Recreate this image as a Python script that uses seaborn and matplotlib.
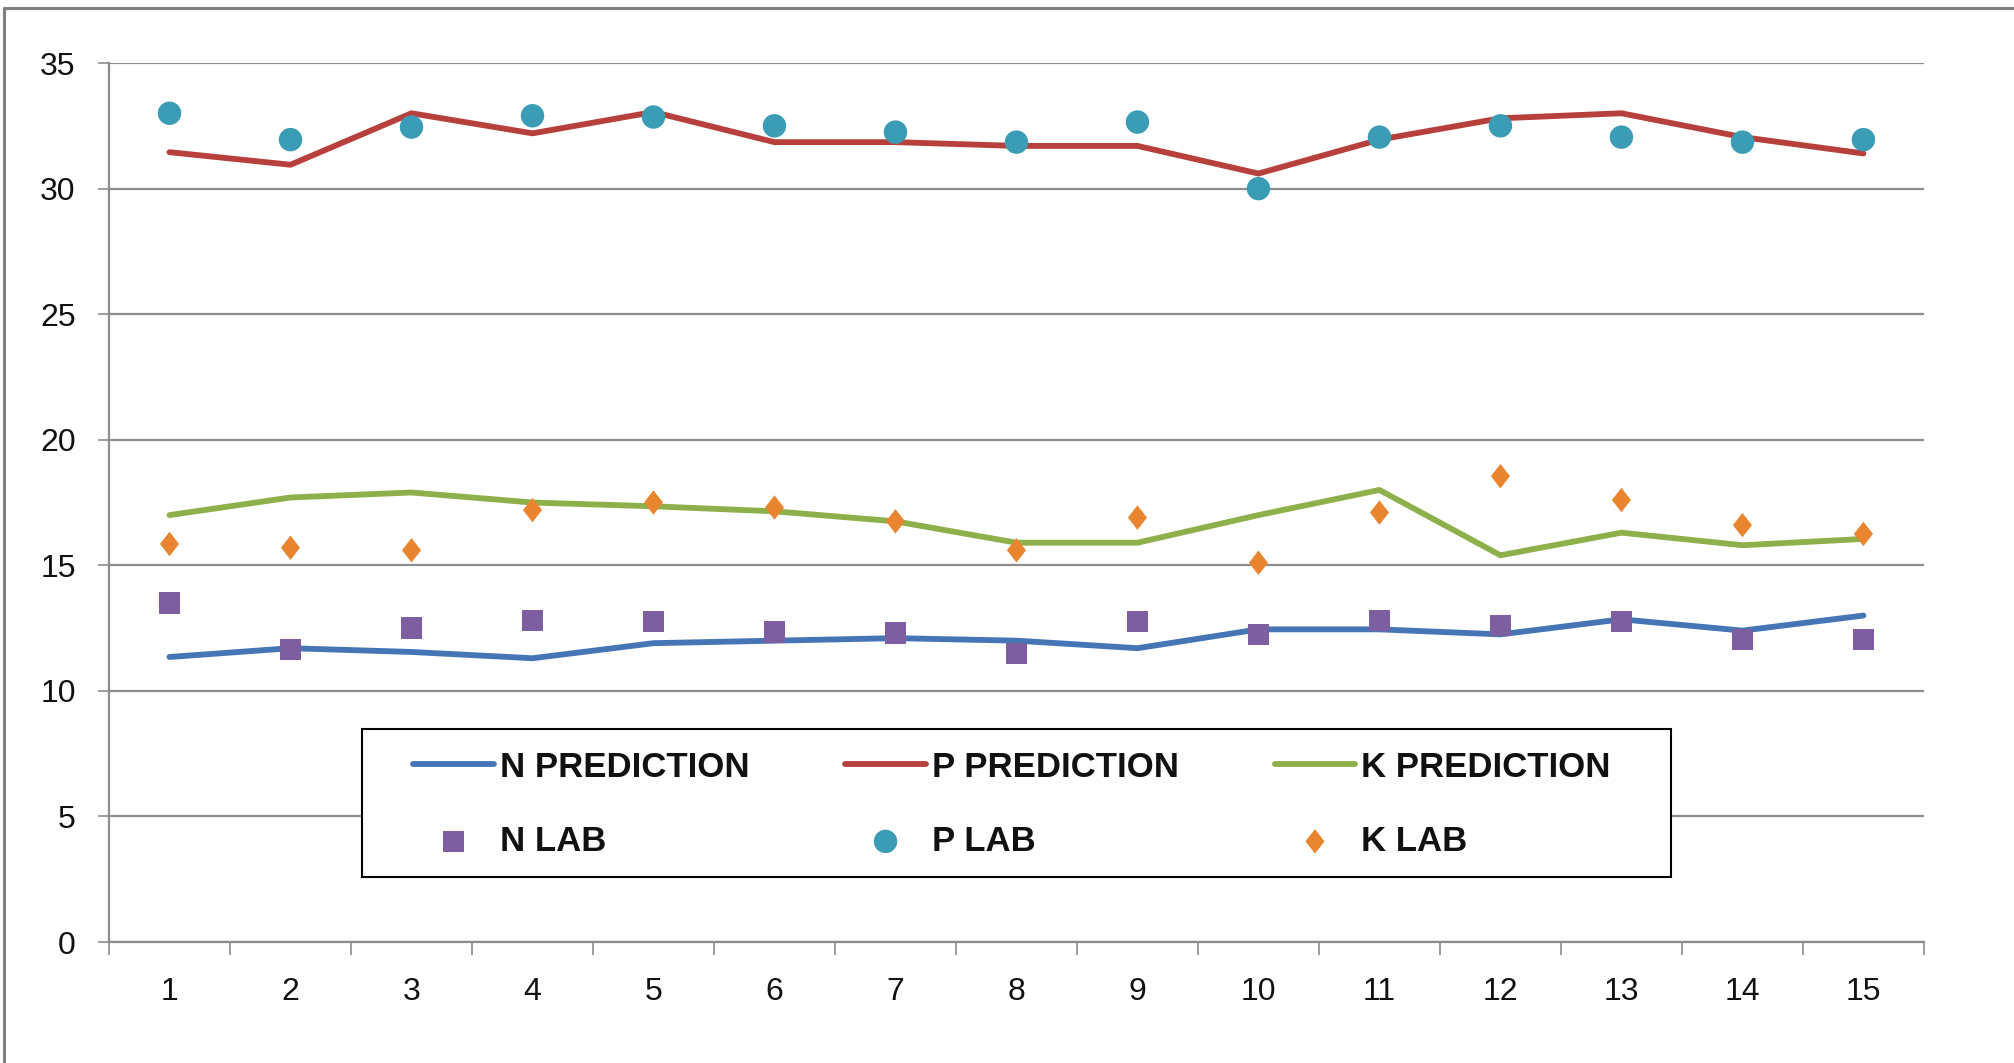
import matplotlib
matplotlib.use('Agg')
from matplotlib import pyplot as plt
from matplotlib.lines import Line2D
from matplotlib.patches import Rectangle
from matplotlib.path import Path
from matplotlib.ticker import FixedLocator, NullFormatter
import seaborn as sns

# 样本编号
samples = list(range(1, 16))

# 预测值
n_prediction = [11.35, 11.7, 11.55, 11.3, 11.9, 12.0, 12.1, 12.0, 11.7, 12.45, 12.45, 12.25, 12.85, 12.4, 13.0]
p_prediction = [31.45, 30.95, 33.0, 32.2, 33.05, 31.85, 31.85, 31.7, 31.7, 30.6, 31.95, 32.8, 33.0, 32.05, 31.4]
k_prediction = [17.0, 17.7, 17.9, 17.5, 17.35, 17.15, 16.75, 15.9, 15.9, 17.0, 18.0, 15.4, 16.3, 15.8, 16.05]

# 实验室测量值
n_lab = [13.5, 11.65, 12.5, 12.8, 12.75, 12.35, 12.3, 11.5, 12.75, 12.25, 12.8, 12.6, 12.75, 12.05, 12.05]
p_lab = [33.0, 31.95, 32.45, 32.9, 32.85, 32.5, 32.25, 31.85, 32.65, 30.0, 32.05, 32.5, 32.05, 31.85, 31.95]
k_lab = [15.85, 15.7, 15.6, 17.2, 17.5, 17.3, 16.75, 15.6, 16.9, 15.1, 17.1, 18.55, 17.6, 16.6, 16.25]

sns.set_style('white')
plt.rcParams['font.family'] = ['Liberation Sans', 'DejaVu Sans']

grid_color = '#8c8c8c'

fig = plt.figure(figsize=(20.15, 10.63), dpi=100)
ax = fig.add_axes([0.0541, 0.1138, 0.9007, 0.8269])

# 折线：预测值
sns.lineplot(x=samples, y=n_prediction, color='#4675b5', lw=4.2, label='N PREDICTION', ax=ax)
sns.lineplot(x=samples, y=p_prediction, color='#b8403c', lw=4.2, label='P PREDICTION', ax=ax)
sns.lineplot(x=samples, y=k_prediction, color='#8db04a', lw=4.2, label='K PREDICTION', ax=ax)

# 散点：实验室值
diamond = Path([(0, 1), (0.78, 0), (0, -1), (-0.78, 0), (0, 1)],
               [Path.MOVETO, Path.LINETO, Path.LINETO, Path.LINETO, Path.CLOSEPOLY])
sns.scatterplot(x=samples, y=n_lab, marker='s', s=235, color='#7d5ea0', edgecolor='none',
                label='N LAB', zorder=3, ax=ax)
sns.scatterplot(x=samples, y=p_lab, marker='o', s=285, color='#3b9db5', edgecolor='none',
                label='P LAB', zorder=3, ax=ax)
sns.scatterplot(x=samples, y=k_lab, marker=diamond, s=310, color='#e9842f', edgecolor='none',
                label='K LAB', zorder=3, ax=ax)

# 坐标轴
ax.set_xlim(0.5, 15.5)
ax.set_ylim(0, 35)
ax.set_yticks(range(0, 36, 5))
ax.xaxis.set_major_locator(FixedLocator([i + 0.5 for i in range(16)]))
ax.xaxis.set_major_formatter(NullFormatter())
ax.set_xticks(samples, minor=True)
ax.set_xticklabels([str(s) for s in samples], minor=True)
ax.tick_params(axis='x', which='major', bottom=True, length=9.5, width=1.2, color=grid_color)
ax.tick_params(axis='x', which='minor', bottom=True, length=0, pad=25, labelsize=23, labelcolor='#111111')
ax.tick_params(axis='y', left=True, length=8, width=1.2, color=grid_color, pad=16,
               labelsize=23, labelcolor='#111111')
ax.set_xlabel('')
ax.set_ylabel('')

ax.yaxis.grid(True, color=grid_color, lw=1.6)
ax.xaxis.grid(False)
ax.set_axisbelow(True)
for side in ['top', 'right']:
    ax.spines[side].set_visible(False)
for side in ['left', 'bottom']:
    ax.spines[side].set_color(grid_color)
    ax.spines[side].set_linewidth(1.6)

# 图例框（白底黑边，盖住网格线）
ax.add_patch(Rectangle((0.1394, 0.0739), 0.7212, 0.1684, transform=ax.transAxes,
                       facecolor='white', edgecolor='black', lw=1.5, zorder=4.5))

# 图例：3列2行
handles, labels = ax.get_legend_handles_labels()
lookup = dict(zip(labels, handles))
order = ['N PREDICTION', 'N LAB', 'P PREDICTION', 'P LAB', 'K PREDICTION', 'K LAB']
leg = ax.legend([lookup[o] for o in order], order, ncol=3, loc='center',
                bbox_to_anchor=(0.1675, 0.157, 0.66, 0.0), mode='expand',
                frameon=False, borderaxespad=0, borderpad=0,
                prop={'weight': 'bold', 'size': 25}, handlelength=2.33, handletextpad=0.17,
                labelspacing=1.18, scatterpoints=1)
for t in leg.get_texts():
    t.set_color('#111111')

# 外框
fig.add_artist(Line2D([0.002, 0.002], [0.0, 0.9925], color='#7f7f7f', lw=2.2))
fig.add_artist(Line2D([0.002, 1.0], [0.9925, 0.9925], color='#7f7f7f', lw=2.2))

plt.savefig('out.png', dpi=100)
plt.close()
